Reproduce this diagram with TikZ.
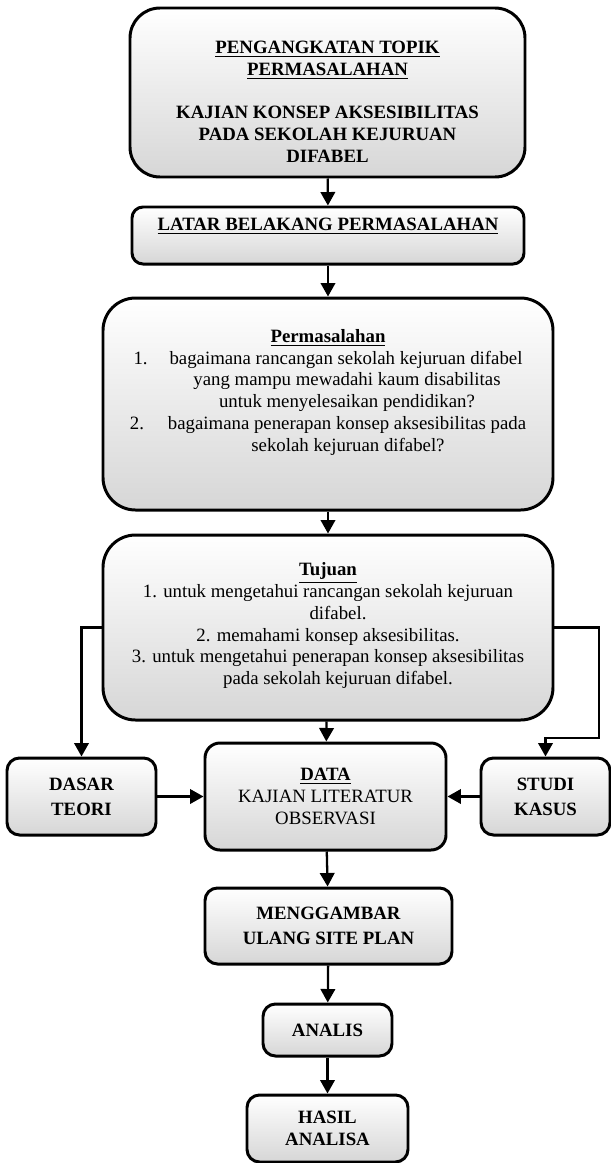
\documentclass[tikz,border=0pt]{standalone}
\usepackage{fontspec}
\setmainfont{Liberation Serif}
\usepackage{tikz}
\usetikzlibrary{arrows.meta, positioning}

\begin{document}
\begin{tikzpicture}[
    box/.style={rectangle, draw, line width=1.7pt, rounded corners=0.25cm,
                top color=white, bottom color=black!16, align=center,
                font=\fontsize{10.7}{12.4}\selectfont, inner sep=2pt},
    boldbox/.style={box, font=\fontsize{10.7}{14.2}\selectfont\bfseries},
    arrow/.style={-{Triangle[length=0.27cm,width=0.29cm]}, line width=1.3pt},
]
\useasboundingbox (0,0) rectangle (12.22,-23.26);

\node[boldbox, rounded corners=0.6cm, minimum width=7.9cm, minimum height=3.38cm,
      font=\fontsize{10.7}{12.4}\selectfont\bfseries] (topik) at (6.55,-1.85)
  {\rule{0pt}{0.62cm}\underline{PENGANGKATAN TOPIK}\\\underline{PERMASALAHAN}\\[12.4pt]
   KAJIAN KONSEP AKSESIBILITAS\\PADA SEKOLAH KEJURUAN\\DIFABEL};
\node[boldbox, rounded corners=0.22cm, minimum width=7.84cm, minimum height=1.14cm,
      text depth=0.45cm] (latar) at (6.56,-4.71)
  {\underline{LATAR BELAKANG PERMASALAHAN}};
\node[box, rounded corners=0.65cm, minimum width=9cm, minimum height=4.24cm,
      text depth=0.55cm] (perm) at (6.56,-8.08)
  {\textbf{\underline{Permasalahan}}\\
   \makebox[0.72cm][l]{1.}bagaimana rancangan sekolah kejuruan difabel\\
   \hspace*{0.76cm}yang mampu mewadahi kaum disabilitas\\
   \hspace*{0.76cm}untuk menyelesaikan pendidikan?\\
   \makebox[0.76cm][l]{2.}bagaimana penerapan konsep aksesibilitas pada\\
   \hspace*{0.8cm}sekolah kejuruan difabel?};
\node[box, rounded corners=0.65cm, minimum width=9cm, minimum height=3.7cm,
      text depth=0.15cm] (tujuan) at (6.56,-12.55)
  {\textbf{\underline{Tujuan}}\\
   1. untuk mengetahui rancangan sekolah kejuruan\\
   \hspace*{0.4cm}difabel.\\
   2. memahami konsep aksesibilitas.\\
   3. untuk mengetahui penerapan konsep aksesibilitas\\
   \hspace*{0.4cm}pada sekolah kejuruan difabel.};

\node[boldbox, minimum width=2.98cm, minimum height=1.54cm] (dasar) at (1.63,-15.93)
  {DASAR\\TEORI};
\node[box, rounded corners=0.3cm, minimum width=4.82cm, minimum height=2.14cm] (data) at (6.51,-15.93)
  {\textbf{\underline{DATA}}\\KAJIAN LITERATUR\\OBSERVASI};
\node[boldbox, minimum width=2.58cm, minimum height=1.54cm] (studi) at (10.91,-15.93)
  {STUDI\\KASUS};

\node[boldbox, minimum width=4.94cm, minimum height=1.52cm] (gambar) at (6.57,-18.52)
  {MENGGAMBAR\\ULANG SITE PLAN};
\node[boldbox, minimum width=2.58cm, minimum height=1.04cm] (analis) at (6.55,-20.6)
  {ANALIS};
\node[boldbox, minimum width=3.22cm, minimum height=1.34cm,
      font=\fontsize{10.7}{12.4}\selectfont\bfseries] (hasil) at (6.55,-22.57)
  {HASIL\\ANALISA};

\coordinate (belok) at (11.98,-14.76);

\draw[arrow] (topik) -- (latar);
\draw[arrow] (latar) -- (perm);
\draw[arrow] (perm) -- (tujuan);
\draw[arrow] (tujuan) -- (data);
\draw[arrow] (tujuan.west) -| (dasar.north);
\draw[arrow] (tujuan.east) -| (belok) -| (studi.north);
\draw[arrow] (dasar) -- (data);
\draw[arrow] (studi) -- (data);
\draw[arrow] (data) -- (gambar);
\draw[arrow] (gambar) -- (analis);
\draw[arrow] (analis) -- (hasil);
\end{tikzpicture}
\end{document}
